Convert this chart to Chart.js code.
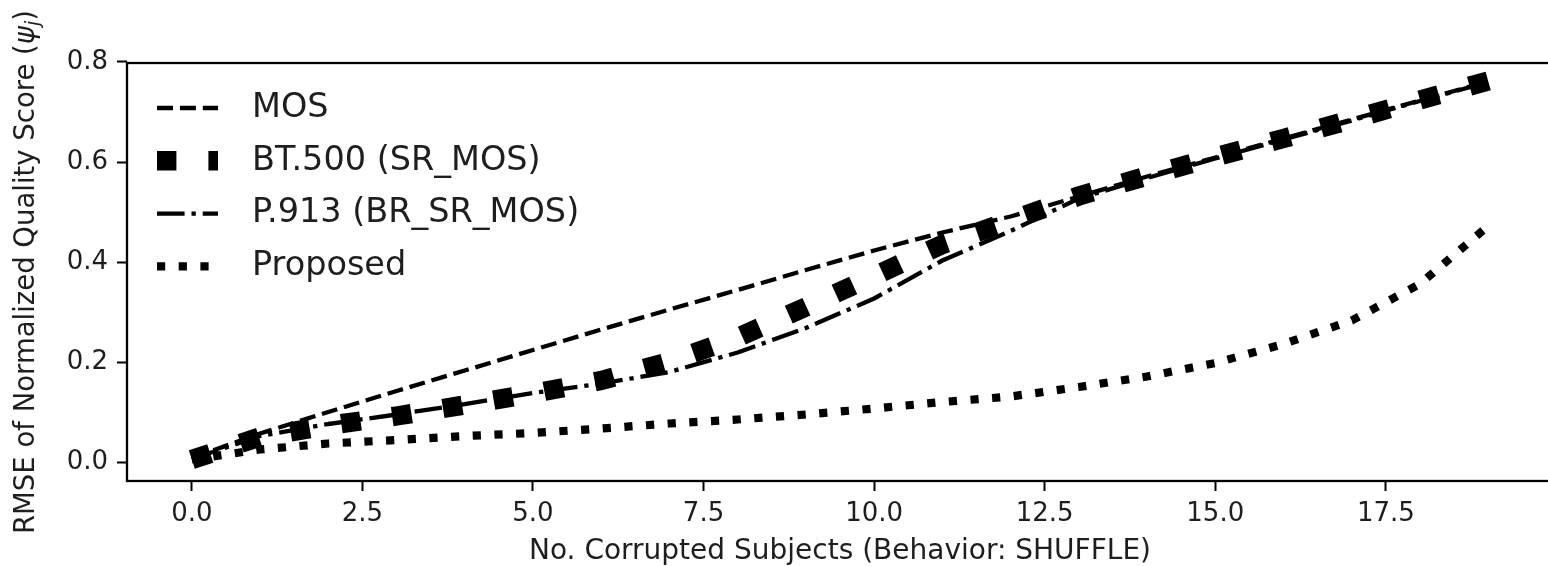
<!DOCTYPE html>
<html>
<head>
<meta charset="utf-8">
<script src="https://cdn.jsdelivr.net/npm/chart.js@4.4.1/dist/chart.umd.min.js"></script>
<style>
  html, body { margin: 0; padding: 0; background: #fff; overflow: hidden; }
  #wrap { width: 1548px; height: 566px; overflow: hidden; }
</style>
</head>
<body>
<div id="wrap"><canvas id="chart" width="1560" height="566"></canvas></div>
<script>
// No. of corrupted subjects
const subjects = [0, 1, 2, 3, 4, 5, 6, 7, 8, 9, 10, 11, 12, 13, 14, 15, 16, 17, 18, 19];

// RMSE of normalized quality score
const mosRmse = [0.008, 0.057, 0.100, 0.142, 0.183, 0.224, 0.265, 0.305, 0.344, 0.384,
    0.423, 0.459, 0.491, 0.531, 0.571, 0.609, 0.647, 0.685, 0.723, 0.761];
const bt500Rmse = [0.005, 0.050, 0.073, 0.092, 0.114, 0.137, 0.163, 0.201, 0.249, 0.310,
    0.372, 0.435, 0.483, 0.532, 0.572, 0.610, 0.647, 0.685, 0.724, 0.762];
const p913Rmse = [0.006, 0.052, 0.076, 0.095, 0.116, 0.138, 0.157, 0.180, 0.219, 0.268,
    0.327, 0.403, 0.462, 0.527, 0.568, 0.607, 0.645, 0.683, 0.722, 0.760];
const proposedRmse = [0.005, 0.025, 0.037, 0.044, 0.052, 0.058, 0.067, 0.077, 0.085, 0.095,
    0.107, 0.120, 0.131, 0.150, 0.171, 0.198, 0.236, 0.283, 0.356, 0.472];

const seriesNames = ['MOS', 'BT.500 (SR_MOS)', 'P.913 (BR_SR_MOS)', 'Proposed'];
const xTicks = [0, 2.5, 5, 7.5, 10, 12.5, 15, 17.5];
const yTicks = [0, 0.2, 0.4, 0.6, 0.8];

const xLabel = 'No. Corrupted Subjects (Behavior: SHUFFLE)';
const yLabel = 'RMSE of Normalized Quality Score (';

const textColor = '#1e1e1e';
Chart.defaults.font.family = '"DejaVu Sans", sans-serif';
Chart.defaults.color = textColor;

function toPoints(values) {
    return subjects.map((x, i) => ({ x, y: values[i] }));
}

// matplotlib-like line styles (px): dashed, thick dotted, dash-dot, dotted
const lineStyles = [
    { borderWidth: 4.3, borderDash: [16, 6.9] },
    { borderWidth: 19.4, borderDash: [19.4, 32] },
    { borderWidth: 4.3, borderDash: [27.6, 6.9, 4.3, 6.9] },
    { borderWidth: 8.2, borderDash: [8.2, 13.5] },
];
const allSeries = [mosRmse, bt500Rmse, p913Rmse, proposedRmse];

const datasets = allSeries.map((values, i) => ({
    label: seriesNames[i],
    data: toPoints(values),
    borderColor: '#000',
    backgroundColor: '#000',
    pointRadius: 0,
    tension: 0,
    fill: false,
    borderCapStyle: 'butt',
    borderJoinStyle: 'round',
    order: allSeries.length - i,
    ...lineStyles[i]
}));

// axes box (all four spines)
const framePlugin = {
    id: 'frame',
    afterDatasetsDraw(chart) {
        const { ctx, chartArea: a } = chart;
        ctx.save();
        ctx.lineWidth = 2.3;
        ctx.strokeStyle = '#000';
        ctx.strokeRect(a.left, a.top, a.right - a.left, a.bottom - a.top);
        ctx.restore();
    }
};

// legend without frame, upper left
const legendPlugin = {
    id: 'plainLegend',
    afterDraw(chart) {
        const ctx = chart.ctx;
        ctx.save();
        chart.data.datasets.forEach((ds, i) => {
            const y = 108 + i * 52.8;
            ctx.beginPath();
            ctx.lineWidth = ds.borderWidth;
            ctx.lineCap = 'butt';
            ctx.setLineDash(ds.borderDash);
            ctx.strokeStyle = ds.borderColor;
            ctx.moveTo(157, y);
            ctx.lineTo(218, y);
            ctx.stroke();
            ctx.setLineDash([]);
            ctx.fillStyle = textColor;
            ctx.font = '33.5px "DejaVu Sans"';
            ctx.textBaseline = 'middle';
            ctx.textAlign = 'left';
            ctx.fillText(ds.label, 252, y);
        });
        ctx.restore();
    }
};

// rotated y title with italic psi and subscript j
const yTitlePlugin = {
    id: 'yTitle',
    afterDraw(chart) {
        const { ctx, chartArea: a } = chart;
        const reg = '27.5px "DejaVu Sans"';
        const ital = 'italic 27.5px "DejaVu Sans"';
        const sub = 'italic 19px "DejaVu Sans"';
        const parts = [
            { t: yLabel, f: reg, dy: 0 },
            { t: 'ψ', f: ital, dy: 0 },
            { t: 'j', f: sub, dy: 5 },
            { t: ')', f: reg, dy: 0 },
        ];
        ctx.save();
        let total = 0;
        parts.forEach(p => { ctx.font = p.f; p.w = ctx.measureText(p.t).width; total += p.w; });
        ctx.translate(34, (a.top + a.bottom) / 2);
        ctx.rotate(-Math.PI / 2);
        ctx.fillStyle = textColor;
        ctx.textBaseline = 'alphabetic';
        ctx.textAlign = 'left';
        let x = -total / 2;
        parts.forEach(p => {
            ctx.font = p.f;
            ctx.fillText(p.t, x, p.dy);
            x += p.w;
        });
        ctx.restore();
    }
};

const tickGrid = {
    display: true,
    drawOnChartArea: false,
    drawTicks: true,
    tickLength: 10,
    tickWidth: 2,
    tickColor: '#000',
};

new Chart(document.getElementById('chart'), {
    type: 'line',
    data: { datasets },
    options: {
        responsive: false,
        animation: false,
        devicePixelRatio: 1,
        layout: { padding: { top: 63, right: 7, bottom: 0, left: 0 } },
        plugins: {
            legend: { display: false },
            tooltip: { enabled: false },
        },
        scales: {
            x: {
                type: 'linear',
                min: -0.95,
                max: 19.95,
                border: { display: false },
                grid: tickGrid,
                ticks: {
                    padding: 8,
                    font: { size: 26 },
                    color: textColor,
                    maxRotation: 0,
                    callback: v => v.toFixed(1),
                },
                afterBuildTicks: scale => { scale.ticks = xTicks.map(v => ({ value: v })); },
                afterFit: scale => { scale.height = 85; },
                title: {
                    display: true,
                    text: xLabel,
                    color: textColor,
                    font: { size: 28, lineHeight: 1 },
                    padding: { top: 0, bottom: 0 },
                },
            },
            y: {
                type: 'linear',
                min: -0.038,
                max: 0.798,
                border: { display: false },
                grid: tickGrid,
                ticks: {
                    padding: 9,
                    font: { size: 26 },
                    color: textColor,
                    callback: v => v.toFixed(1),
                },
                afterBuildTicks: scale => { scale.ticks = yTicks.map(v => ({ value: v })); },
                afterFit: scale => { scale.width = 127; },
            },
        },
    },
    plugins: [framePlugin, legendPlugin, yTitlePlugin],
});
</script>
</body>
</html>
